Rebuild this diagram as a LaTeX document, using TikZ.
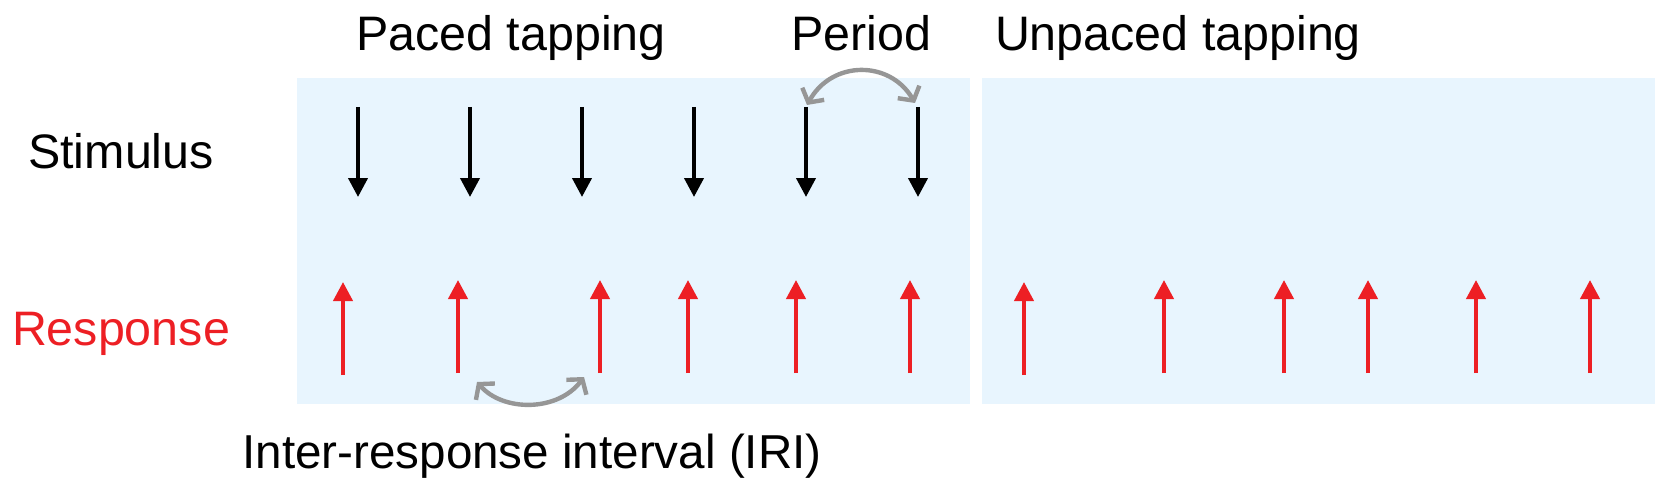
\documentclass[tikz,border=0pt]{standalone}
\usepackage{fontspec}
\setmainfont{Liberation Sans}
\usetikzlibrary{arrows.meta}
\definecolor{panelblue}{RGB}{232,245,254}
\definecolor{resred}{RGB}{237,31,36}
\definecolor{arcgray}{RGB}{150,150,150}
\tikzset{
  lbl/.style={font=\fontsize{48.4}{58}\selectfont, anchor=base, inner sep=0pt},
  panel/.style={fill=panelblue, draw=none, anchor=north west, inner sep=0pt,
                minimum width=673pt, minimum height=326pt},
  stim/.style={black, line width=4pt, -{Triangle[length=19pt,width=19pt]}},
  resp/.style={resred, line width=4pt, -{Triangle[length=19pt,width=19pt]}},
  interval/.style={arcgray, line width=4.4pt, line cap=round,
    {Straight Barb[length=10pt,width=25pt]}-{Straight Barb[length=10pt,width=25pt]}},
}
\begin{document}
\begin{tikzpicture}[x=1pt,y=-1pt]
\useasboundingbox (0,0) rectangle (1670,492);
% panels
\node[panel] (pleft) at (297,78) {};
\node[panel] (pright) at (982,78) {};
% labels
\node[lbl] (paced) at (511,51) {Paced tapping};
\node[lbl] (period) at (861,51) {Period};
\node[lbl] (unpaced) at (1178,51) {Unpaced tapping};
\node[lbl] (stimulus) at (121,168) {Stimulus};
\node[lbl, text=resred] (response) at (121,345) {Response};
\node[lbl, font=\fontsize{47.6}{58}\selectfont] (iri) at (532,468) {Inter-response interval (IRI)};
% stimulus arrows
\foreach \i/\x in {1/358,2/470,3/582,4/694,5/806,6/918}{
  \coordinate (s\i a) at (\x,107);
  \coordinate (s\i b) at (\x,197);
  \draw[stim] (s\i a) -- (s\i b);
}
% response arrows, paced
\foreach \i/\x/\d in {1/343/2,2/458/0,3/600/0,4/688/0,5/796/0,6/910/0}{
  \coordinate (r\i a) at (\x,373+\d);
  \coordinate (r\i b) at (\x,280+\d);
  \draw[resp] (r\i a) -- (r\i b);
}
% response arrows, unpaced
\foreach \i/\x/\d in {1/1024/2,2/1164/0,3/1284/0,4/1368/0,5/1476/0,6/1590/0}{
  \coordinate (u\i a) at (\x,373+\d);
  \coordinate (u\i b) at (\x,280+\d);
  \draw[resp] (u\i a) -- (u\i b);
}
% period arc
\coordinate (pa) at (807,105);
\coordinate (pb) at (915,103);
\draw[interval] (pa) .. controls (832,60) and (890,60) .. (pb);
% IRI arc
\coordinate (ia) at (477,382);
\coordinate (ib) at (584,377);
\draw[interval] (ia) .. controls (503,412) and (558,412) .. (ib);
\end{tikzpicture}
\end{document}
